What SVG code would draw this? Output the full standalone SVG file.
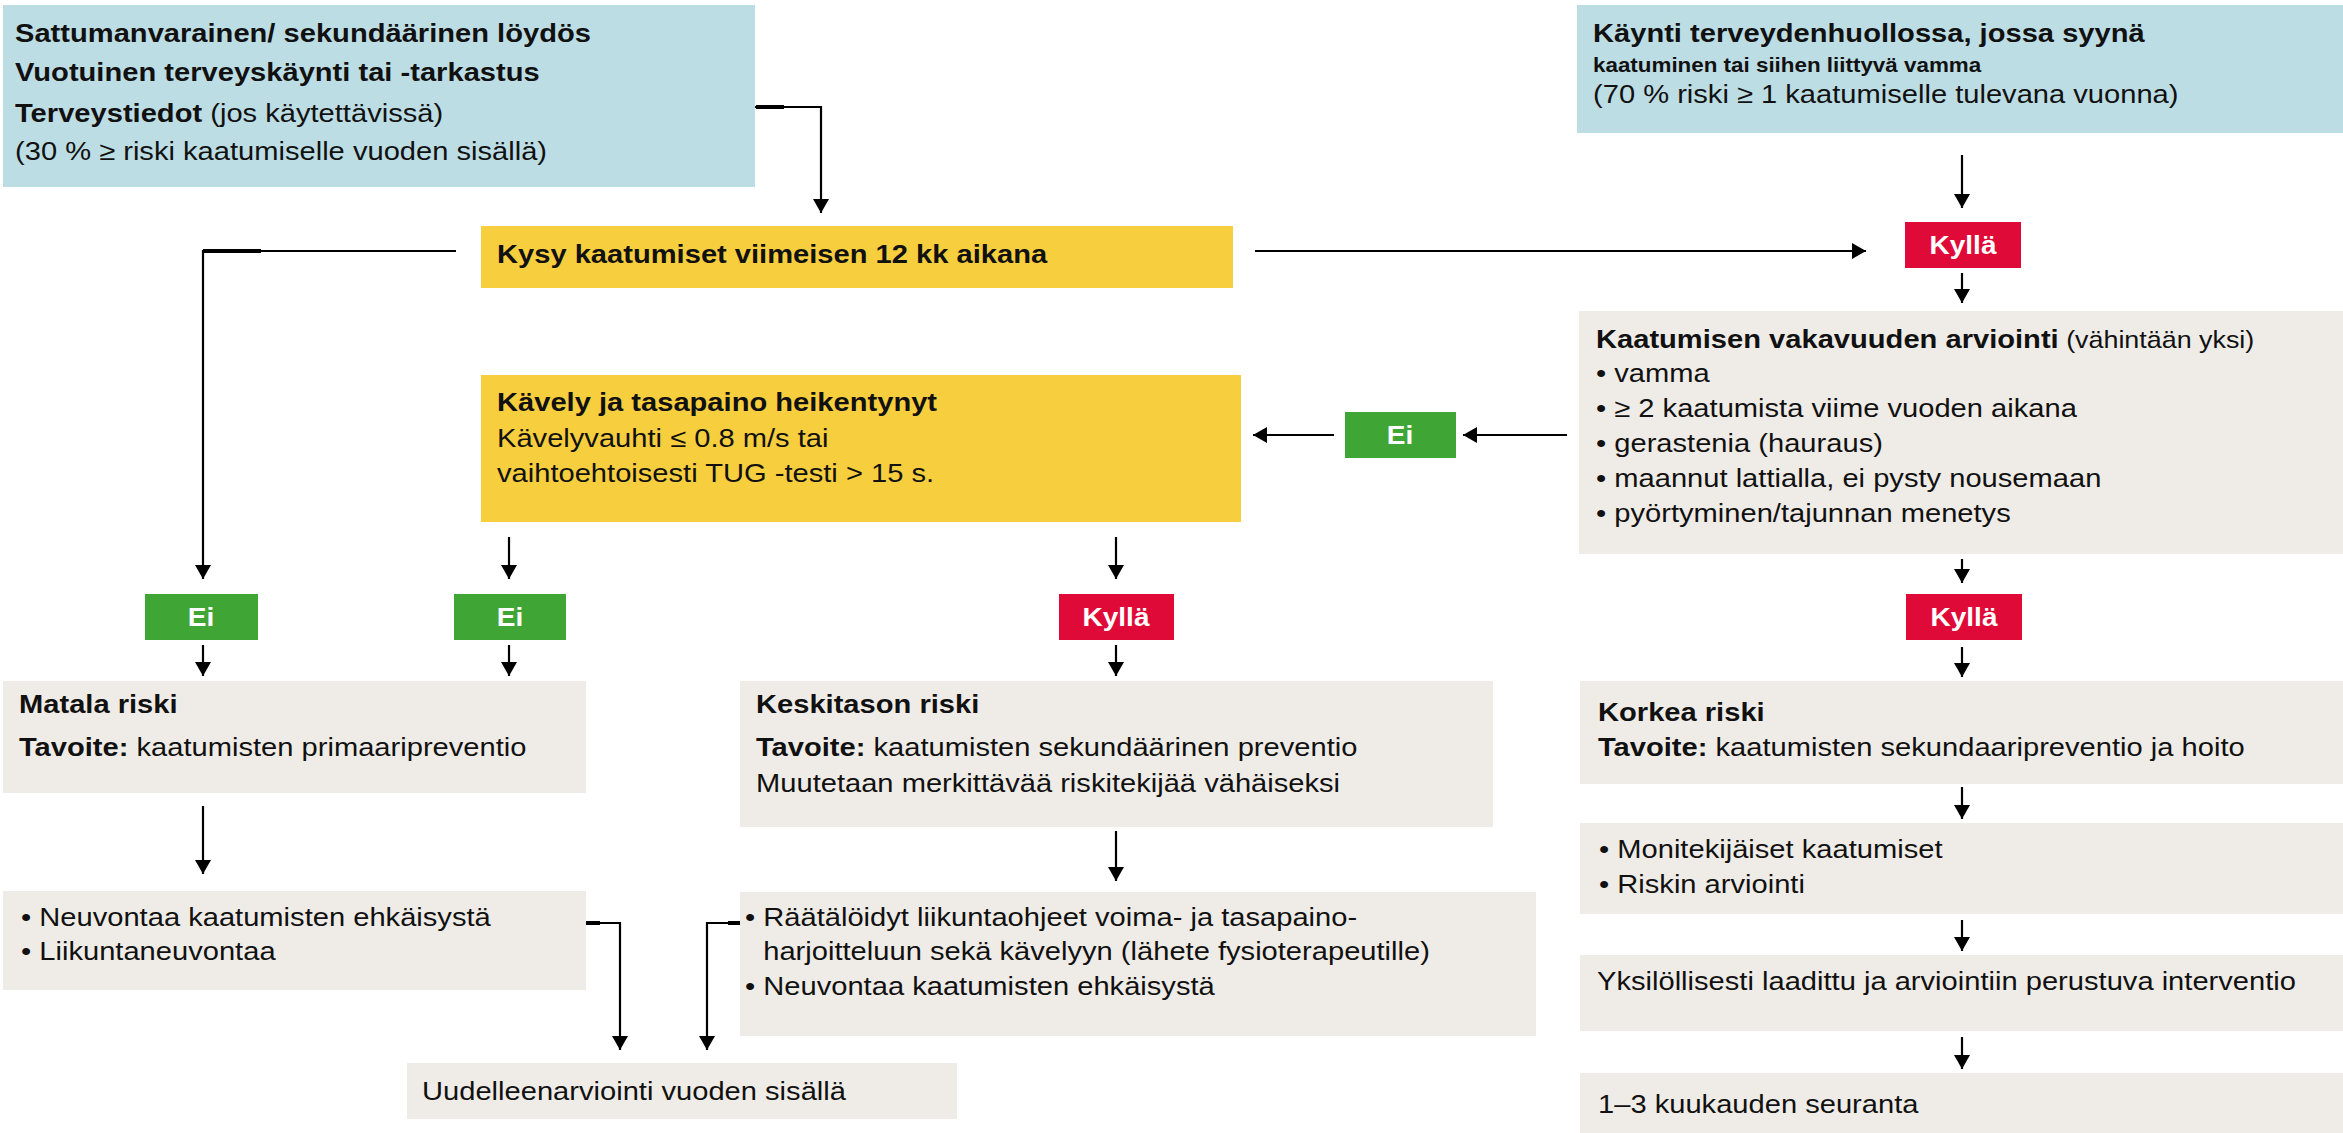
<svg xmlns="http://www.w3.org/2000/svg" width="2343" height="1133" viewBox="0 0 2343 1133">
<style>
.t{font-family:"Liberation Sans",Arial,Helvetica,sans-serif;font-size:26px;fill:#111}
.b{font-weight:bold}
.sm{font-size:24px}
.xs{font-size:20px}
.lbl{font-family:"Liberation Sans",Arial,Helvetica,sans-serif;font-size:25px;font-weight:bold;fill:#fff;text-anchor:middle}
.blue{fill:#BDDDE4}
.yel{fill:#F6CE3E}
.gray{fill:#EFECE7}
.grn{fill:#3FA535}
.red{fill:#E00A38}
.c{fill:none;stroke:#000;stroke-width:2.2}
.stub{fill:none;stroke:#000;stroke-width:4}
</style>
<defs>
<marker id="ah" markerUnits="userSpaceOnUse" viewBox="0 0 14 16" refX="14" refY="8" markerWidth="14" markerHeight="16" orient="auto">
<path d="M0,0 L14,8 L0,16 Z" fill="#000"/>
</marker>
</defs>
<rect width="2343" height="1133" fill="#fff"/>

<g id="connectors">
<polyline class="c" points="755,107 821,107 821,213" marker-end="url(#ah)"/>
<polyline class="c" points="456,251 203,251 203,579" marker-end="url(#ah)"/>
<line class="c" x1="1255" y1="251" x2="1866" y2="251" marker-end="url(#ah)"/>
<line class="c" x1="1962" y1="155" x2="1962" y2="208" marker-end="url(#ah)"/>
<line class="c" x1="1962" y1="273" x2="1962" y2="303" marker-end="url(#ah)"/>
<line class="c" x1="1567" y1="435" x2="1463" y2="435" marker-end="url(#ah)"/>
<line class="c" x1="1334" y1="435" x2="1253" y2="435" marker-end="url(#ah)"/>
<line class="c" x1="509" y1="537" x2="509" y2="579" marker-end="url(#ah)"/>
<line class="c" x1="1116" y1="537" x2="1116" y2="579" marker-end="url(#ah)"/>
<line class="c" x1="1962" y1="559" x2="1962" y2="583" marker-end="url(#ah)"/>
<line class="c" x1="203" y1="645" x2="203" y2="676" marker-end="url(#ah)"/>
<line class="c" x1="509" y1="645" x2="509" y2="676" marker-end="url(#ah)"/>
<line class="c" x1="1116" y1="645" x2="1116" y2="676" marker-end="url(#ah)"/>
<line class="c" x1="1962" y1="647" x2="1962" y2="677" marker-end="url(#ah)"/>
<line class="c" x1="203" y1="806" x2="203" y2="874" marker-end="url(#ah)"/>
<line class="c" x1="1116" y1="831" x2="1116" y2="881" marker-end="url(#ah)"/>
<line class="c" x1="1962" y1="787" x2="1962" y2="819" marker-end="url(#ah)"/>
<line class="c" x1="1962" y1="920" x2="1962" y2="951" marker-end="url(#ah)"/>
<line class="c" x1="1962" y1="1037" x2="1962" y2="1069" marker-end="url(#ah)"/>
<polyline class="c" points="586,923 620,923 620,1050" marker-end="url(#ah)"/>
<polyline class="c" points="740,923 707,923 707,1050" marker-end="url(#ah)"/>
<line class="stub" x1="756" y1="107" x2="784" y2="107"/>
<line class="stub" x1="203" y1="251" x2="261" y2="251"/>
<line class="stub" x1="586" y1="923" x2="600" y2="923"/>
<line class="stub" x1="728" y1="923" x2="740" y2="923"/>
</g>

<g id="n-sattuma">
<rect class="blue" x="3" y="5" width="752" height="182"/>
<text class="t" transform="translate(15 0) scale(1.12 1)">
<tspan x="0" y="42" class="b">Sattumanvarainen/ sekundäärinen löydös</tspan>
<tspan x="0" y="81" class="b">Vuotuinen terveyskäynti tai -tarkastus</tspan>
<tspan x="0" y="122"><tspan class="b">Terveystiedot</tspan> (jos käytettävissä)</tspan>
<tspan x="0" y="160">(30 % ≥ riski kaatumiselle vuoden sisällä)</tspan>
</text>
</g>

<g id="n-kaynti">
<rect class="blue" x="1577" y="5" width="766" height="128"/>
<text class="t" transform="translate(1593 0) scale(1.12 1)">
<tspan x="0" y="42" class="b">Käynti terveydenhuollossa, jossa syynä</tspan>
<tspan x="0" y="72" class="b xs">kaatuminen tai siihen liittyvä vamma</tspan>
<tspan x="0" y="103">(70 % riski ≥ 1 kaatumiselle tulevana vuonna)</tspan>
</text>
</g>

<g id="n-kysy">
<rect class="yel" x="481" y="226" width="752" height="62"/>
<text class="t b" transform="translate(497 0) scale(1.12 1)"><tspan x="0" y="263">Kysy kaatumiset viimeisen 12 kk aikana</tspan></text>
</g>

<g id="n-kylla-top">
<rect class="red" x="1905" y="222" width="116" height="46"/>
<text class="lbl" transform="translate(1963 0) scale(1.12 1)"><tspan x="0" y="254">Kyllä</tspan></text>
</g>

<g id="n-kavely">
<rect class="yel" x="481" y="375" width="760" height="147"/>
<text class="t" transform="translate(497 0) scale(1.12 1)">
<tspan x="0" y="411" class="b">Kävely ja tasapaino heikentynyt</tspan>
<tspan x="0" y="447">Kävelyvauhti ≤ 0.8 m/s tai</tspan>
<tspan x="0" y="482">vaihtoehtoisesti TUG -testi &gt; 15 s.</tspan>
</text>
</g>

<g id="n-ei-mid">
<rect class="grn" x="1345" y="412" width="111" height="46"/>
<text class="lbl" transform="translate(1400 0) scale(1.12 1)"><tspan x="0" y="444">Ei</tspan></text>
</g>

<g id="n-vakavuus">
<rect class="gray" x="1579" y="311" width="764" height="243"/>
<text class="t" transform="translate(1596 0) scale(1.12 1)">
<tspan x="0" y="348"><tspan class="b">Kaatumisen vakavuuden arviointi</tspan><tspan class="sm"> (vähintään yksi)</tspan></tspan>
<tspan x="0" y="382">• vamma</tspan>
<tspan x="0" y="417">• ≥ 2 kaatumista viime vuoden aikana</tspan>
<tspan x="0" y="452">• gerastenia (hauraus)</tspan>
<tspan x="0" y="487">• maannut lattialla, ei pysty nousemaan</tspan>
<tspan x="0" y="522">• pyörtyminen/tajunnan menetys</tspan>
</text>
</g>

<g id="n-ei-1">
<rect class="grn" x="145" y="594" width="113" height="46"/>
<text class="lbl" transform="translate(201 0) scale(1.12 1)"><tspan x="0" y="626">Ei</tspan></text>
</g>

<g id="n-ei-2">
<rect class="grn" x="454" y="594" width="112" height="46"/>
<text class="lbl" transform="translate(510 0) scale(1.12 1)"><tspan x="0" y="626">Ei</tspan></text>
</g>

<g id="n-kylla-mid">
<rect class="red" x="1059" y="594" width="115" height="46"/>
<text class="lbl" transform="translate(1116 0) scale(1.12 1)"><tspan x="0" y="626">Kyllä</tspan></text>
</g>

<g id="n-kylla-right">
<rect class="red" x="1906" y="594" width="116" height="46"/>
<text class="lbl" transform="translate(1964 0) scale(1.12 1)"><tspan x="0" y="626">Kyllä</tspan></text>
</g>

<g id="n-matala">
<rect class="gray" x="3" y="681" width="583" height="112"/>
<text class="t" transform="translate(19 0) scale(1.12 1)">
<tspan x="0" y="713" class="b">Matala riski</tspan>
<tspan x="0" y="756"><tspan class="b">Tavoite:</tspan> kaatumisten primaaripreventio</tspan>
</text>
</g>

<g id="n-keskitaso">
<rect class="gray" x="740" y="681" width="753" height="146"/>
<text class="t" transform="translate(756 0) scale(1.12 1)">
<tspan x="0" y="713" class="b">Keskitason riski</tspan>
<tspan x="0" y="756"><tspan class="b">Tavoite:</tspan> kaatumisten sekundäärinen preventio</tspan>
<tspan x="0" y="792">Muutetaan merkittävää riskitekijää vähäiseksi</tspan>
</text>
</g>

<g id="n-korkea">
<rect class="gray" x="1580" y="681" width="763" height="103"/>
<text class="t" transform="translate(1598 0) scale(1.12 1)">
<tspan x="0" y="721" class="b">Korkea riski</tspan>
<tspan x="0" y="756"><tspan class="b">Tavoite:</tspan> kaatumisten sekundaaripreventio ja hoito</tspan>
</text>
</g>

<g id="n-neuvonta">
<rect class="gray" x="3" y="891" width="583" height="99"/>
<text class="t" transform="translate(21 0) scale(1.12 1)">
<tspan x="0" y="926">• Neuvontaa kaatumisten ehkäisystä</tspan>
<tspan x="0" y="960">• Liikuntaneuvontaa</tspan>
</text>
</g>

<g id="n-raataloidyt">
<rect class="gray" x="740" y="892" width="796" height="144"/>
<text class="t" transform="translate(745 0) scale(1.12 1)">
<tspan x="0" y="926">• Räätälöidyt liikuntaohjeet voima- ja tasapaino-</tspan>
<tspan x="16.3" y="960">harjoitteluun sekä kävelyyn (lähete fysioterapeutille)</tspan>
<tspan x="0" y="995">• Neuvontaa kaatumisten ehkäisystä</tspan>
</text>
</g>

<g id="n-uudelleen">
<rect class="gray" x="407" y="1063" width="550" height="56"/>
<text class="t" transform="translate(422 0) scale(1.12 1)"><tspan x="0" y="1100">Uudelleenarviointi vuoden sisällä</tspan></text>
</g>

<g id="n-monitekijaiset">
<rect class="gray" x="1580" y="823" width="763" height="91"/>
<text class="t" transform="translate(1599 0) scale(1.12 1)">
<tspan x="0" y="858">• Monitekijäiset kaatumiset</tspan>
<tspan x="0" y="893">• Riskin arviointi</tspan>
</text>
</g>

<g id="n-interventio">
<rect class="gray" x="1580" y="955" width="763" height="76"/>
<text class="t" transform="translate(1597 0) scale(1.12 1)"><tspan x="0" y="990">Yksilöllisesti laadittu ja arviointiin perustuva interventio</tspan></text>
</g>

<g id="n-seuranta">
<rect class="gray" x="1580" y="1073" width="763" height="60"/>
<text class="t" transform="translate(1598 0) scale(1.12 1)"><tspan x="0" y="1113">1–3 kuukauden seuranta</tspan></text>
</g>
</svg>
